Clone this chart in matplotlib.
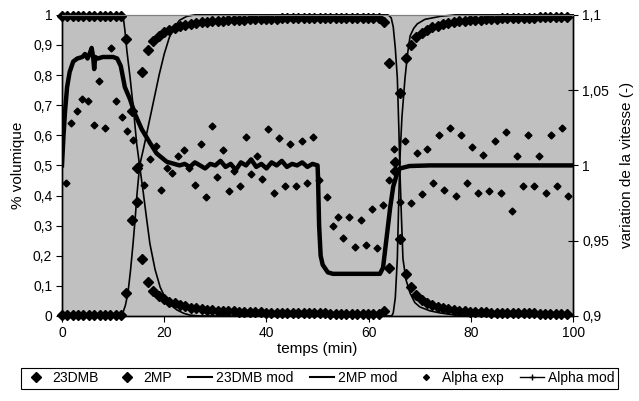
import matplotlib
matplotlib.use("Agg")
import matplotlib.pyplot as plt
from matplotlib.lines import Line2D

plt.rcParams['font.family'] = ['Liberation Sans', 'DejaVu Sans']

# measurement times (min)
meas_t = [0, 1.05, 2.1, 3.15, 4.2, 5.25, 6.3, 7.35, 8.4, 9.45,
          10.5, 11.55, 12.6, 13.65, 14.7, 15.75, 16.8, 17.85, 18.9, 19.95,
          21.0, 22.05, 23.1, 24.15, 25.2, 26.25, 27.3, 28.35, 29.4, 30.45,
          31.5, 32.55, 33.6, 34.65, 35.7, 36.75, 37.8, 38.85, 39.9, 40.95,
          42.0, 43.05, 44.1, 45.15, 46.2, 47.25, 48.3, 49.35, 50.4, 51.45,
          52.5, 53.55, 54.6, 55.65, 56.7, 57.75, 58.8, 59.85, 60.9, 61.95,
          63.0, 64.05, 65.1, 66.15, 67.2, 68.25, 69.3, 70.35, 71.4, 72.45,
          73.5, 74.55, 75.6, 76.65, 77.7, 78.75, 79.8, 80.85, 81.9, 82.95,
          84.0, 85.05, 86.1, 87.15, 88.2, 89.25, 90.3, 91.35, 92.4, 93.45,
          94.5, 95.55, 96.6, 97.65, 98.7]

dmb_exp = [0.995] * 12 + [
    0.92, 0.68, 0.49, 0.19, 0.113, 0.083, 0.065, 0.055,
    0.048, 0.042, 0.036, 0.032, 0.028, 0.026, 0.023, 0.021, 0.019, 0.017,
    0.016, 0.015, 0.015, 0.014, 0.013, 0.013, 0.012, 0.012, 0.011, 0.011,
    0.010, 0.010, 0.010, 0.010, 0.009, 0.009, 0.009, 0.009, 0.009, 0.009,
    0.008, 0.008, 0.008, 0.008, 0.008, 0.008, 0.008, 0.008, 0.008, 0.008,
    0.017, 0.16, 0.48, 0.74, 0.857, 0.90, 0.927, 0.94, 0.95, 0.958,
    0.964, 0.968, 0.972, 0.975, 0.978, 0.980, 0.982, 0.983, 0.984, 0.985,
    0.986, 0.987, 0.988, 0.988, 0.989, 0.990, 0.990, 0.991, 0.991, 0.992,
    0.992, 0.993, 0.993, 0.994, 0.994]

mp_exp = [0.003] * 12 + [
    0.076, 0.32, 0.38, 0.81, 0.884, 0.914, 0.93, 0.942,
    0.95, 0.956, 0.962, 0.966, 0.970, 0.973, 0.975, 0.977, 0.979, 0.980,
    0.981, 0.982, 0.983, 0.983, 0.984, 0.985, 0.985, 0.986, 0.986, 0.987,
    0.987, 0.988, 0.988, 0.988, 0.989, 0.989, 0.989, 0.990, 0.990, 0.990,
    0.990, 0.990, 0.991, 0.991, 0.991, 0.991, 0.991, 0.991, 0.991, 0.991,
    0.977, 0.84, 0.51, 0.256, 0.14, 0.096, 0.07, 0.053, 0.042, 0.035,
    0.030, 0.026, 0.022, 0.019, 0.017, 0.015, 0.014, 0.013, 0.012, 0.012,
    0.011, 0.011, 0.010, 0.010, 0.010, 0.009, 0.009, 0.009, 0.009, 0.008,
    0.008, 0.008, 0.008, 0.007, 0.007]

# model curves (volume fraction)
dmb_mod_t = [0, 11.5, 11.8, 12.0, 12.3, 12.7, 13.3, 14.0, 14.6, 15.3, 15.9,
             16.5, 17.2, 18.2, 19.2, 20.2, 21.2, 22.5, 23.8, 25.0, 27.0,
             64.5, 64.8, 65.2, 65.6, 65.9, 66.1, 66.5, 67.1, 67.6, 68.1,
             68.8, 69.5, 71.0, 74.0, 77.0, 100]
dmb_mod_v = [1, 1, 0.998, 0.99, 0.95, 0.88, 0.795, 0.684, 0.574, 0.485, 0.41,
             0.33, 0.24, 0.155, 0.096, 0.06, 0.037, 0.02, 0.009, 0.003, 0,
             0, 0.01, 0.06, 0.19, 0.40, 0.52, 0.66, 0.79, 0.87, 0.93,
             0.955, 0.97, 0.985, 0.995, 1, 1]

mp_mod_t = [0, 11.5, 11.9, 12.4, 12.9, 13.4, 13.9, 14.3, 14.7, 15.2, 16.0,
            17.0, 18.0, 19.0, 20.0, 21.0, 22.0, 23.0, 24.4, 26.0,
            63.8, 64.4, 64.8, 65.2, 65.6, 65.9, 66.1, 66.4, 66.7, 67.3,
            68.1, 69.0, 70.0, 72.0, 74.0, 77.0, 80.0, 100]
mp_mod_v = [0, 0, 0.01, 0.035, 0.076, 0.15, 0.24, 0.32, 0.41, 0.5, 0.56,
            0.64, 0.72, 0.80, 0.87, 0.925, 0.96, 0.982, 0.995, 1,
            1, 0.99, 0.96, 0.89, 0.79, 0.62, 0.485, 0.33, 0.19, 0.12,
            0.076, 0.045, 0.03, 0.017, 0.01, 0.003, 0, 0]

# speed variation (right axis)
alpha_exp_t = [0.7, 1.8, 2.9, 4.0, 5.1, 6.2, 7.3, 8.4, 9.5, 10.6,
               11.7, 12.8, 13.9, 15.0, 16.1, 17.2, 18.3, 19.4, 20.5, 21.6,
               22.7, 23.8, 24.9, 26.0, 27.1, 28.2, 29.3, 30.4, 31.5, 32.6,
               33.7, 34.8, 35.9, 37.0, 38.1, 39.2, 40.3, 41.4, 42.5, 43.6,
               44.7, 45.8, 46.9, 48.0, 49.1, 50.2, 51.9, 53.0, 54.0, 55.0,
               56.2, 57.3, 58.5, 59.5, 60.7, 61.6, 62.8, 63.9, 65.0, 66.1,
               67.1, 68.3, 69.4, 70.4, 71.5, 72.6, 73.8, 74.8, 75.9, 77.0,
               78.0, 79.2, 80.3, 81.4, 82.4, 83.6, 84.7, 85.8, 86.9, 88.0,
               89.0, 90.2, 91.2, 92.4, 93.4, 94.6, 95.7, 96.8, 97.8, 99.0]
alpha_exp = [0.988, 1.028, 1.036, 1.044, 1.043, 1.027, 1.056, 1.025, 1.078, 1.043,
             1.032, 1.023, 1.017, 1.000, 0.987, 1.004, 1.013, 0.984, 0.998, 0.995,
             1.006, 1.010, 0.998, 0.987, 1.014, 0.979, 1.026, 0.992, 1.010, 0.983,
             0.996, 0.986, 1.019, 0.994, 1.006, 0.991, 1.024, 0.982, 1.018, 0.986,
             1.014, 0.986, 1.016, 0.988, 1.019, 0.990, 0.979, 0.960, 0.966, 0.952,
             0.966, 0.946, 0.964, 0.947, 0.971, 0.945, 0.974, 0.990, 1.011, 0.976,
             1.016, 0.975, 1.008, 0.981, 1.011, 0.988, 1.020, 0.984, 1.025, 0.980,
             1.020, 0.988, 1.012, 0.982, 1.007, 0.983, 1.016, 0.982, 1.022, 0.970,
             1.006, 0.986, 1.020, 0.986, 1.006, 0.982, 1.020, 0.986, 1.025, 0.980]

alpha_mod_t = [0, 0.3, 0.6, 1.0, 1.5, 2.2, 3.0, 4.0, 4.5, 5.0, 5.5, 5.8, 6.1,
               6.3, 6.5, 7.0, 8.0, 9.0, 10.0, 10.8, 11.5, 12.3, 13.3, 14.3,
               15.6, 17.2, 18.5, 20.5, 23, 24, 25, 26, 27, 28, 29, 30, 31, 32,
               33, 34, 35, 36, 37, 38, 39, 40, 41, 42, 43, 44, 45, 46, 47, 48,
               49, 50.0, 50.1, 50.3, 50.6, 51.0, 52.0, 53.0, 62.2, 62.8, 63.5,
               64.2, 64.8, 65.5, 66.1, 68.0, 72.0, 100]
alpha_mod = [1.0, 1.02, 1.036, 1.052, 1.062, 1.069, 1.071, 1.072, 1.074, 1.071,
             1.075, 1.078, 1.072, 1.064, 1.072, 1.071, 1.072, 1.072, 1.072,
             1.071, 1.066, 1.052, 1.044, 1.034, 1.024, 1.015, 1.008, 1.0024,
             1.000, 1.001, 0.999, 1.002, 1.000, 0.998, 1.001, 1.000, 1.003,
             0.999, 1.001, 0.997, 1.002, 1.000, 1.004, 0.999, 1.001, 0.998,
             1.002, 1.000, 1.003, 0.999, 1.001, 1.000, 1.002, 0.999, 1.001,
             1.000, 0.99, 0.96, 0.94, 0.934, 0.929, 0.928, 0.928, 0.932, 0.952,
             0.972, 0.986, 0.994, 0.998, 0.9996, 1.0, 1.0]

x_ticks = [0, 20, 40, 60, 80, 100]
left_ticks = [0, 0.1, 0.2, 0.3, 0.4, 0.5, 0.6, 0.7, 0.8, 0.9, 1]
right_ticks = [0.9, 0.95, 1, 1.05, 1.1]


def fr(v):
    # french decimal comma
    s = ('%g' % v)
    return s.replace('.', ',')


fig = plt.figure(figsize=(6.39, 4.01), dpi=100)
ax = fig.add_axes([0.097, 0.212, 0.8, 0.751])
ax.set_facecolor('#c0c0c0')
ax2 = ax.twinx()

ax.plot(meas_t, dmb_exp, 'D', color='black', ms=5.5, clip_on=False, zorder=3)
ax.plot(meas_t, mp_exp, 'D', color='black', ms=5.5, clip_on=False, zorder=3)
ax.plot(dmb_mod_t, dmb_mod_v, '-', color='black', lw=1.2, clip_on=False)
ax.plot(mp_mod_t, mp_mod_v, '-', color='black', lw=1.2, clip_on=False)

ax2.plot(alpha_exp_t, alpha_exp, 'D', color='black', ms=3.5)
ax2.plot(alpha_mod_t, alpha_mod, '-', color='black', lw=3.2, solid_joinstyle='round')

ax.set_xlim(0, 100)
ax.set_ylim(0, 1)
ax2.set_ylim(0.9, 1.1)
ax.set_xticks(x_ticks)
ax.set_xticklabels([fr(v) for v in x_ticks])
ax.set_yticks(left_ticks)
ax.set_yticklabels([fr(v) for v in left_ticks])
ax2.set_yticks(right_ticks)
ax2.set_yticklabels([fr(v) for v in right_ticks])

ax.tick_params(axis='both', labelsize=10, direction='out', length=4, width=0.8, pad=3)
ax2.tick_params(axis='y', labelsize=10, direction='inout', length=7, width=0.8, pad=3)

for a in (ax, ax2):
    a.spines['top'].set_color('#808080')
    a.spines['top'].set_linewidth(0.8)
    a.spines['left'].set_linewidth(1.0)
    a.spines['right'].set_linewidth(1.0)
    a.spines['bottom'].set_linewidth(1.0)

ax.set_xlabel('temps (min)', fontsize=11, labelpad=2)
ax.set_ylabel('% volumique', fontsize=11, labelpad=6)
ax2.set_ylabel('variation de la vitesse (-)', fontsize=11, labelpad=8)

handles = [
    Line2D([], [], ls='none', marker='D', color='black', ms=5),
    Line2D([], [], ls='none', marker='D', color='black', ms=5),
    Line2D([], [], ls='-', color='black', lw=1.5),
    Line2D([], [], ls='-', color='black', lw=1.5),
    Line2D([], [], ls='none', marker='D', color='black', ms=3),
    Line2D([], [], ls='-', marker='+', color='black', lw=1, ms=5),
]
labels = ['23DMB', '2MP', '23DMB mod', '2MP mod', 'Alpha exp', 'Alpha mod']
leg = fig.legend(handles, labels, loc='center', bbox_to_anchor=(0.5, 0.057),
                 ncol=6, fontsize=10, frameon=True, fancybox=False,
                 edgecolor='black', framealpha=1, handlelength=1.7,
                 handletextpad=0.3, columnspacing=1.2, borderpad=0.25,
                 borderaxespad=0)
leg.get_frame().set_linewidth(0.8)

fig.savefig('out.png', dpi=100)
